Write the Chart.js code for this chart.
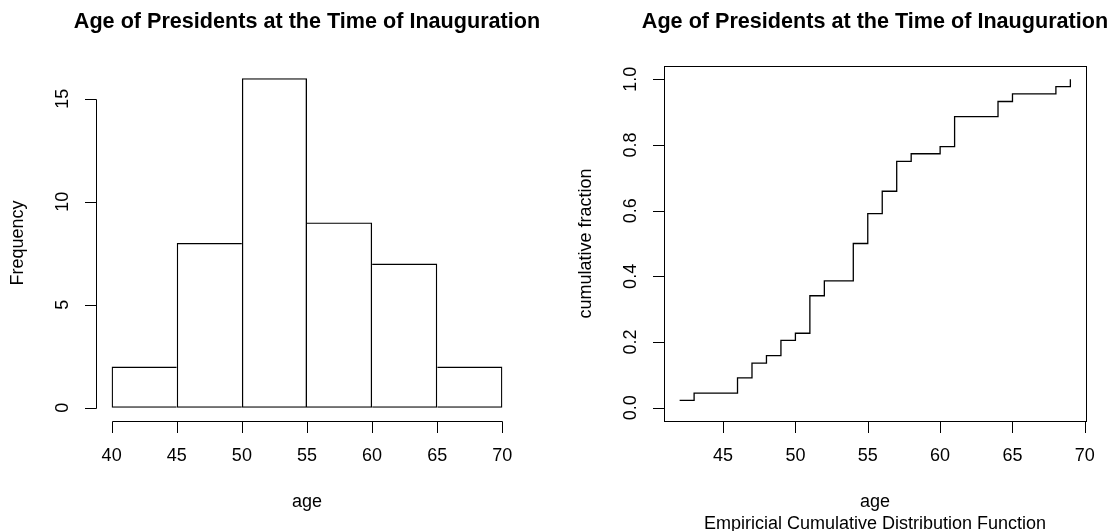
<!DOCTYPE html>
<html>
<head>
<meta charset="utf-8">
<script src="https://cdn.jsdelivr.net/npm/chart.js@4"></script>
<style>
  html, body { margin: 0; padding: 0; background: #fff; }
  #wrap { position: relative; width: 1114px; height: 531px; }
  .panel { position: absolute; top: 0; width: 557px; height: 531px; }
</style>
</head>
<body>
<div id="wrap">
  <div class="panel" style="left:0"><canvas id="histChart" width="557" height="531"></canvas></div>
  <div class="panel" style="left:557px"><canvas id="ecdfChart" width="557" height="531"></canvas></div>
</div>
<script>
//------------------------------------
// Data
//------------------------------------

const mainTitle = "Age of Presidents at the Time of Inauguration";

// histogram of ages (5 year bins)
const binStart = [40, 45, 50, 55, 60, 65];
const binEnd = [45, 50, 55, 60, 65, 70];
const binCount = [2, 8, 16, 9, 7, 2];
const histXTicks = [40, 45, 50, 55, 60, 65, 70];
const histYTicks = [0, 5, 10, 15];

// cumulative fraction, step plot
const ecdfAge = [42, 43, 46, 47, 48, 49, 50, 51, 52, 54, 55, 56, 57, 58, 60, 61, 64, 65, 68, 69];
const ecdfFraction = [0.023, 0.045, 0.091, 0.136, 0.159, 0.205, 0.227, 0.341, 0.386, 0.5,
                      0.591, 0.659, 0.75, 0.773, 0.795, 0.886, 0.932, 0.955, 0.977, 1.0];
const ecdfXTicks = [45, 50, 55, 60, 65, 70];
const ecdfYTicks = [0, 0.2, 0.4, 0.6, 0.8, 1.0];
const ecdfYLabels = ["0.0", "0.2", "0.4", "0.6", "0.8", "1.0"];

//------------------------------------
// R style axes / titles plugin
//------------------------------------

const FONT = '"Liberation Sans", Arial, Helvetica, sans-serif';
const TICK_LEN = 11.5;

function crisp(v) {
    return Math.round(v) + 0.5;
}

const rAxesPlugin = {
    id: "rAxes",
    afterDraw(chart, args, opts) {
        const ctx = chart.ctx;
        const area = chart.chartArea;
        const xs = chart.scales.x;
        const ys = chart.scales.y;

        ctx.save();
        ctx.strokeStyle = "#000";
        ctx.fillStyle = "#000";
        ctx.lineWidth = 1;

        if (opts.box) {
            ctx.strokeRect(crisp(area.left), crisp(area.top),
                Math.round(area.right - area.left), Math.round(area.bottom - area.top));
        }

        // x axis
        const xPix = opts.xTicks.map(v => xs.getPixelForValue(v));
        const yBase = crisp(area.bottom);
        ctx.beginPath();
        ctx.moveTo(crisp(xPix[0]), yBase);
        ctx.lineTo(crisp(xPix[xPix.length - 1]), yBase);
        xPix.forEach(p => {
            ctx.moveTo(crisp(p), yBase);
            ctx.lineTo(crisp(p), yBase + TICK_LEN);
        });

        // y axis
        const yPix = opts.yTicks.map(v => ys.getPixelForValue(v));
        const xBase = crisp(area.left);
        ctx.moveTo(xBase, crisp(yPix[0]));
        ctx.lineTo(xBase, crisp(yPix[yPix.length - 1]));
        yPix.forEach(p => {
            ctx.moveTo(xBase, crisp(p));
            ctx.lineTo(xBase - TICK_LEN, crisp(p));
        });
        ctx.stroke();

        // tick labels
        ctx.font = "18px " + FONT;
        ctx.textAlign = "center";
        ctx.textBaseline = "middle";
        xPix.forEach((p, i) => {
            ctx.fillText(String(opts.xTicks[i]), p, area.bottom + 35);
        });
        yPix.forEach((p, i) => {
            ctx.save();
            ctx.translate(area.left - 33, p);
            ctx.rotate(-Math.PI / 2);
            ctx.fillText(opts.yLabels[i], 0, 0);
            ctx.restore();
        });

        // axis titles
        const midX = (area.left + area.right) / 2;
        const midY = (area.top + area.bottom) / 2;
        ctx.fillText(opts.xTitle, midX, area.bottom + 81);
        if (opts.sub) {
            ctx.fillText(opts.sub, midX, area.bottom + 103);
        }
        ctx.save();
        ctx.translate(area.left - 78, midY);
        ctx.rotate(-Math.PI / 2);
        ctx.fillText(opts.yTitle, 0, 0);
        ctx.restore();

        // main title
        ctx.font = "bold 21.6px " + FONT;
        ctx.fillText(mainTitle, midX, 22);

        ctx.restore();
    }
};

function fixedTicks(values) {
    return function (scale) {
        scale.ticks = values.map(v => ({ value: v }));
    };
}

//------------------------------------
// Histogram
//------------------------------------

// shared edges are drawn once, by the taller of the two neighbouring bars
function barBorder(ctx) {
    const i = ctx.dataIndex;
    const n = binCount.length;
    const c = binCount[i];
    const w = 1.3;
    return {
        top: w,
        bottom: w,
        left: (i === 0 || c >= binCount[i - 1]) ? w : 0,
        right: (i === n - 1 || c > binCount[i + 1]) ? w : 0
    };
}

new Chart(document.getElementById("histChart"), {
    type: "bar",
    data: {
        datasets: [{
            data: binCount.map((c, i) => ({ x: (binStart[i] + binEnd[i]) / 2, y: c })),
            backgroundColor: "rgba(0,0,0,0)",
            borderColor: "#000",
            borderWidth: barBorder,
            borderSkipped: false,
            inflateAmount: 0,
            barPercentage: 1.0,
            categoryPercentage: 1.0
        }]
    },
    options: {
        responsive: false,
        animation: false,
        devicePixelRatio: 1,
        layout: { padding: { left: 96, right: 39, top: 65, bottom: 110 } },
        scales: {
            x: { type: "linear", display: false, offset: false, min: 38.8, max: 71.2,
                 afterBuildTicks: fixedTicks(histXTicks) },
            y: { type: "linear", display: false, min: -0.64, max: 16.64,
                 afterBuildTicks: fixedTicks(histYTicks) }
        },
        plugins: {
            legend: { display: false },
            tooltip: { enabled: false },
            rAxes: {
                box: false,
                xTicks: histXTicks,
                yTicks: histYTicks,
                yLabels: histYTicks.map(String),
                xTitle: "age",
                yTitle: "Frequency"
            }
        }
    },
    plugins: [rAxesPlugin]
});

//------------------------------------
// Cumulative fraction
//------------------------------------

new Chart(document.getElementById("ecdfChart"), {
    type: "line",
    data: {
        datasets: [{
            data: ecdfAge.map((a, i) => ({ x: a, y: ecdfFraction[i] })),
            borderColor: "#000",
            borderWidth: 1.3,
            stepped: "before",
            pointRadius: 0,
            fill: false,
            tension: 0
        }]
    },
    options: {
        responsive: false,
        animation: false,
        devicePixelRatio: 1,
        layout: { padding: { left: 107, right: 28, top: 66, bottom: 110 } },
        scales: {
            x: { type: "linear", display: false, min: 40.92, max: 70.08,
                 afterBuildTicks: fixedTicks(ecdfXTicks) },
            y: { type: "linear", display: false, min: -0.04, max: 1.04,
                 afterBuildTicks: fixedTicks(ecdfYTicks) }
        },
        plugins: {
            legend: { display: false },
            tooltip: { enabled: false },
            rAxes: {
                box: true,
                xTicks: ecdfXTicks,
                yTicks: ecdfYTicks,
                yLabels: ecdfYLabels,
                xTitle: "age",
                yTitle: "cumulative fraction",
                sub: "Empiricial Cumulative Distribution Function"
            }
        }
    },
    plugins: [rAxesPlugin]
});
</script>
</body>
</html>
